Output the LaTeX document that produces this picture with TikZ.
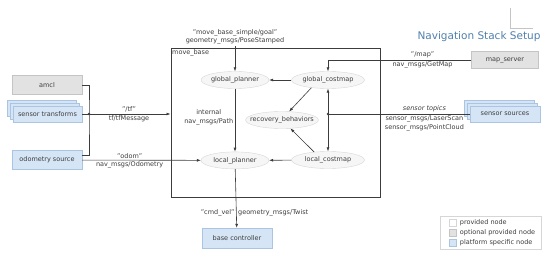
\documentclass[tikz,border=0pt]{standalone}
\usepackage{fontspec}
\setmainfont{DejaVu Sans}
\usetikzlibrary{positioning,arrows.meta,shapes.geometric,shadows,calc}
\definecolor{ink}{HTML}{3C3C3C}
\definecolor{titleblue}{HTML}{4F7FAD}
\definecolor{optional}{HTML}{E2E2E2}
\definecolor{optline}{HTML}{C4C4C4}
\definecolor{platform}{HTML}{D5E5F6}
\definecolor{platline}{HTML}{A9C5E2}
\definecolor{rosfill}{HTML}{F6F6F6}
\definecolor{rosline}{HTML}{D6D6D6}

\begin{document}
\begin{tikzpicture}[
  x=1pt, y=-1pt,
  font=\fontsize{6.5}{8.5}\selectfont,
  text=ink,
  >={Latex[length=4pt,width=3pt]},
  box/.style={rectangle, draw, inner sep=1pt},
  optbox/.style={box, fill=optional, draw=optline, minimum width=70, minimum height=19},
  platbox/.style={box, fill=platform, draw=platline, minimum width=70, minimum height=19},
  stackbox/.style={platbox, minimum height=16,
    double copy shadow={shadow xshift=-3pt, shadow yshift=3pt, fill=platform, draw=platline}},
  ros/.style={ellipse, fill=rosfill, draw=rosline, inner xsep=-6pt, inner ysep=0pt, minimum height=17},
  lbl/.style={align=center, inner sep=1.5pt},
  wire/.style={draw=ink, line width=0.6pt},
  arr/.style={wire, ->},
  joint/.style={circle, fill=ink, inner sep=0pt, minimum size=2.6pt},
  keysq/.style={box, minimum size=7pt, inner sep=0pt},
]
\useasboundingbox (0,0) rectangle (550,255);

% title and corner mark
\draw[optline, line width=0.5pt] (510,8) -- (510,28) -- (533,28);
\node[font=\fontsize{10.5}{12}\selectfont, text=titleblue] (title) at (479,37) {Navigation Stack Setup};

% move_base
\node[rectangle, draw=ink, line width=1pt, minimum width=209, minimum height=149] (mb) at (275.5,122.5) {};
\node[anchor=north west, inner sep=1.5pt] (mblabel) at (mb.north west) {move\_base};
\node[ros, minimum width=68] (gp) at (235,80) {global\_planner};
\node[ros, minimum width=68, below=63pt of gp] (lp) {local\_planner};
\node[ros, minimum width=73] (gc) at (328,80) {global\_costmap};
\node[ros, minimum width=73] (lc) at (328,160) {local\_costmap};
\node[ros, minimum width=72] (rb) at (282,120) {recovery\_behaviors};

% outside nodes
\node[optbox] (amcl) at (47,85) {amcl};
\node[stackbox, minimum width=69] (st) at (47.5,114) {sensor transforms};
\node[platbox] (odom) at (47,160) {odometry source};
\node[optbox, minimum width=67, minimum height=17] (ms) at (505,60) {map\_server};
\node[stackbox] (ss) at (505,114) {sensor sources};
\node[platbox, minimum height=20] (bc) at (237,238) {base controller};

\coordinate (goal) at (235,46);
\coordinate (tfjoin) at (89,114);
\coordinate (sjoin) at (328,114);

% connections
\draw[arr] (goal) -- (gp) node[lbl, above, pos=0] {"move\_base\_simple/goal"\\geometry\_msgs/PoseStamped};
\draw[arr] (gc) -- (gp);
\draw[arr] (lc) -- (lp);
\draw[arr] (gp) -- (lp) node[lbl, left, pos=0.45] {internal\\nav\_msgs/Path};
\draw[arr] (gc.205) -- (rb.50);
\draw[arr] (lc.150) -- (rb.-45);
\draw[arr] (ms) -| (gc) node[lbl, above, pos=0.17] {"/map"} node[lbl, below, pos=0.17] {nav\_msgs/GetMap};
\draw[wire] (ss) -- (sjoin) node[lbl, above, pos=0.32] {\textit{sensor topics}}
  node[lbl, below, pos=0.32] {sensor\_msgs/LaserScan\\sensor\_msgs/PointCloud};
\draw[arr] (sjoin) -- (gc);
\draw[arr] (sjoin) -- (lc);
\node[joint] (sdot) at (sjoin) {};
\draw[wire] (amcl) -| (tfjoin) |- ([yshift=5pt]odom.east);
\draw[arr] (st) -- (st -| mb.west) node[lbl, above, pos=0.53] {"/tf"} node[lbl, below, pos=0.53] {tf/tfMessage};
\node[joint] (tfdot) at (tfjoin) {};
\draw[arr] (odom) -- (lp) node[lbl, above, pos=0.4] {"odom"} node[lbl, below, pos=0.4] {nav\_msgs/Odometry};
\draw[arr] (lp) -- (bc) node[lbl, left, pos=0.74] {"cmd\_vel"} node[lbl, right, pos=0.74] {geometry\_msgs/Twist};

% legend
\node[rectangle, draw=optline!70, minimum width=101, minimum height=33] (legend) at (490.5,232.5) {};
\node[keysq, fill=white, draw=optline!70] (kprov) at (453,223) {};
\node[keysq, fill=optional, draw=optline] (kopt) at (453,233) {};
\node[keysq, fill=platform, draw=platline] (kplat) at (453,243) {};
\node[right=3pt of kprov, inner sep=0pt] (tprov) {provided node};
\node[right=3pt of kopt, inner sep=0pt] (topt) {optional provided node};
\node[right=3pt of kplat, inner sep=0pt] (tplat) {platform specific node};
\end{tikzpicture}
\end{document}
